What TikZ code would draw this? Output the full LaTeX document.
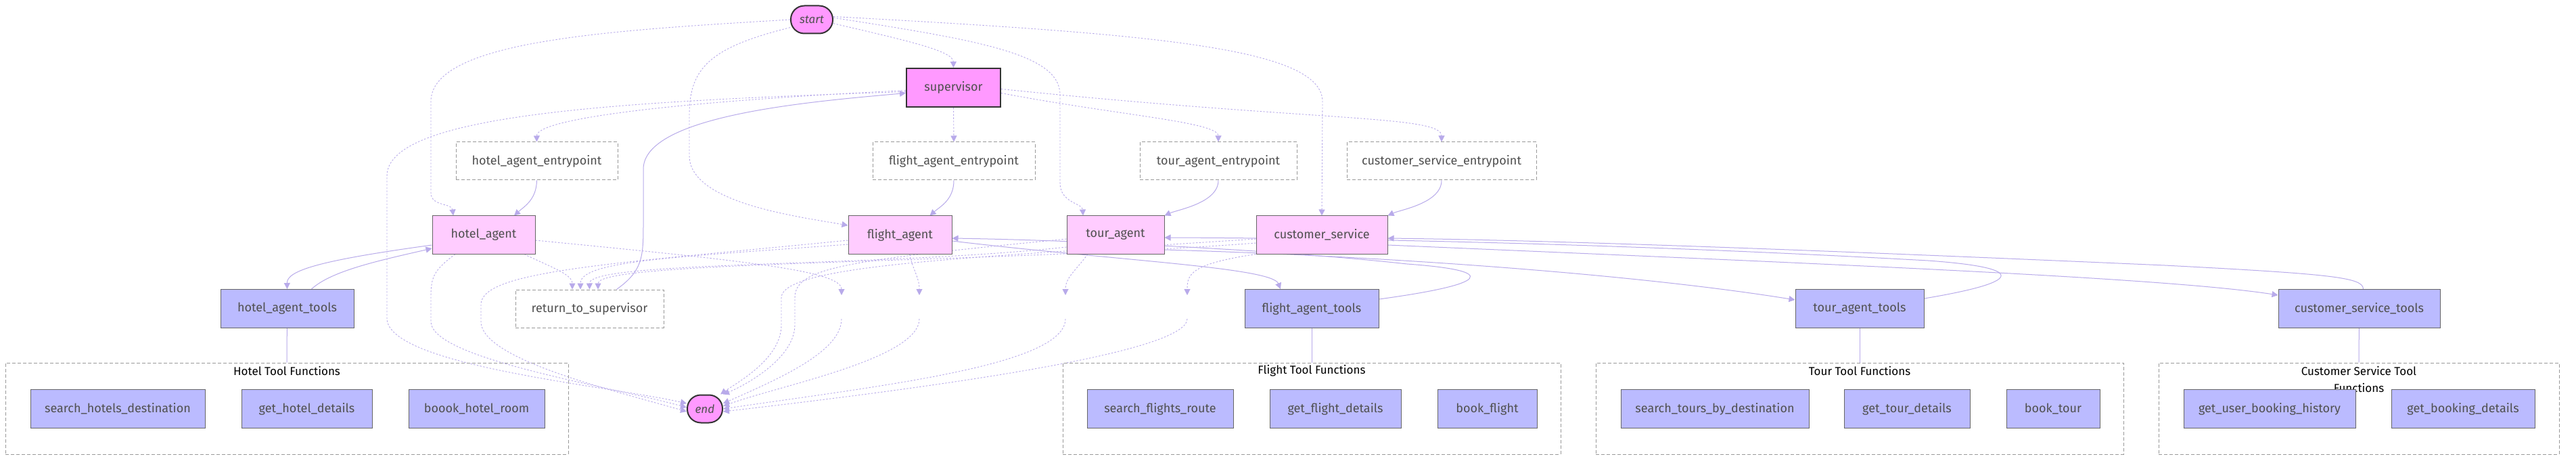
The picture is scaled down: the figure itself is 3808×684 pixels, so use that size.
\documentclass[tikz,border=0pt]{standalone}
\usepackage{fontspec}
\setmainfont{Fira Sans}
\usetikzlibrary{positioning,arrows.meta,backgrounds}

\definecolor{edgeline}{RGB}{184,170,234}
\definecolor{termfill}{RGB}{255,153,255}
\definecolor{agentfill}{RGB}{255,204,255}
\definecolor{toolfill}{RGB}{187,187,255}
\definecolor{nodetext}{RGB}{80,80,80}
\definecolor{dashline}{RGB}{153,153,153}

\begin{document}
\begin{tikzpicture}[x=0.5pt,y=-0.5pt,
        every node/.style={font=\fontsize{9}{12.5}\selectfont,text=nodetext,inner sep=0pt},
        terminal/.style={draw=black!80,line width=1pt,fill=termfill,rounded corners=10pt,minimum height=20.5pt,font=\fontsize{8.5}{10}\selectfont\itshape},
        boss/.style={draw=black!80,line width=1pt,fill=termfill,minimum height=28.5pt},
        entry/.style={draw=dashline,line width=0.5pt,dash pattern=on 2.5pt off 1.5pt,fill=white,minimum height=28pt},
        agent/.style={draw=black!60,line width=0.5pt,fill=agentfill,minimum height=28pt},
        tool/.style={draw=black!60,line width=0.5pt,fill=toolfill,minimum height=28.5pt},
        group/.style={draw=dashline,line width=0.5pt,dash pattern=on 2.5pt off 1.5pt,minimum height=67.5pt},
        grouptitle/.style={text=black,align=center,font=\fontsize{8.5}{12.5}\selectfont},
        flow/.style={draw=edgeline,line width=0.5pt,-{Triangle[length=4.5pt,width=4.5pt]}},
        cond/.style={flow,line width=0.45pt,dash pattern=on 1.2pt off 1.2pt},
        link/.style={draw=edgeline,line width=0.5pt}]
        \useasboundingbox (0,0) rectangle (3808,684);

        \node[terminal,minimum width=31pt] (start) at (1200,29) {start};
        \node[boss,minimum width=69.5pt] (supervisor) at (1409.5,129.5) {supervisor};
        \node[entry,minimum width=119.5pt] (hotelentry) at (793.5,238) {hotel\_agent\_entrypoint};
        \node[entry,minimum width=120pt] (flightentry) at (1410,238) {flight\_agent\_entrypoint};
        \node[entry,minimum width=116pt] (tourentry) at (1801,238) {tour\_agent\_entrypoint};
        \node[entry,minimum width=140pt] (csentry) at (2131,238) {customer\_service\_entrypoint};
        \node[agent,minimum width=76pt] (hotel) at (715,347) {hotel\_agent};
        \node[agent,minimum width=76.5pt] (flight) at (1330.5,347) {flight\_agent};
        \node[agent,minimum width=72pt] (tour) at (1649,347) {tour\_agent};
        \node[agent,minimum width=97pt] (cs) at (1954,347) {customer\_service};
        \node[tool,minimum width=98.5pt] (hoteltools) at (424.5,456) {hotel\_agent\_tools};
        \node[entry,minimum width=109.5pt] (rts) at (871.5,456) {return\_to\_supervisor};
        \node[tool,minimum width=99pt] (flighttools) at (1939,456) {flight\_agent\_tools};
        \node[tool,minimum width=95pt] (tourtools) at (2749,456) {tour\_agent\_tools};
        \node[tool,minimum width=119.5pt] (cstools) at (3487.5,456) {customer\_service\_tools};
        \node[terminal,minimum width=26pt] (end) at (1042,604) {end};

        \node[group,minimum width=416pt] (hotelgroup) at (424,603.5) {};
        \node[group,minimum width=368pt] (flightgroup) at (1939,603.5) {};
        \node[group,minimum width=390pt] (tourgroup) at (2749,603.5) {};
        \node[group,minimum width=296pt] (csgroup) at (3487,603.5) {};
        \node[grouptitle] (hoteltitle) at (424,548) {Hotel Tool Functions};
        \node[grouptitle] (flighttitle) at (1939,548) {Flight Tool Functions};
        \node[grouptitle] (tourtitle) at (2749,548) {Tour Tool Functions};
        \node[grouptitle] (cstitle) at (3487,560.5) {Customer Service Tool\\Functions};

        \node[tool,minimum width=129pt] (searchhotels) at (174,604) {search\_hotels\_destination};
        \node[tool,minimum width=96.5pt] (hoteldetails) [right=26.5pt of searchhotels] {get\_hotel\_details};
        \node[tool,minimum width=100.5pt] (hotelroom) [right=26.5pt of hoteldetails] {boook\_hotel\_room};
        \node[tool,minimum width=108pt] (searchflights) at (1715,604) {search\_flights\_route};
        \node[tool,minimum width=97pt] (flightdetails) [right=26.5pt of searchflights] {get\_flight\_details};
        \node[tool,minimum width=73.5pt] (bookflight) [right=26.5pt of flightdetails] {book\_flight};
        \node[tool,minimum width=139pt] (searchtours) at (2535,604) {search\_tours\_by\_destination};
        \node[tool,minimum width=93pt] (tourdetails) [right=25.5pt of searchtours] {get\_tour\_details};
        \node[tool,minimum width=69pt] (booktour) [right=26.5pt of tourdetails] {book\_tour};
        \node[tool,minimum width=127pt] (history) at (3355,604) {get\_user\_booking\_history};
        \node[tool,minimum width=106pt] (bookingdetails) [right=26pt of history] {get\_booking\_details};

        \coordinate (hotelmid) at (1244,436);
        \coordinate (hotelresume) at (1244,471);
        \coordinate (flightmid) at (1359,436);
        \coordinate (flightresume) at (1359,471);
        \coordinate (tourmid) at (1575,436);
        \coordinate (tourresume) at (1575,471);
        \coordinate (csmid) at (1755,436);
        \coordinate (csresume) at (1755,471);

        \begin{scope}[on background layer]
        \fill[white] (0,0) rectangle (3808,684);
        \draw[cond] (start.-10) .. controls (1340,60) and (1409,75) .. (supervisor.north);
        \draw[cond] (start.west) .. controls (900,45) and (637,60) .. (637,150) -- (637,285) .. controls (637,305) and (668,300) .. ([xshift=-22.5pt]hotel.north);
        \draw[cond] (start.200) .. controls (1050,70) and (1019,100) .. (1019,170) -- (1019,230) .. controls (1019,300) and (1180,320) .. ([yshift=7pt]flight.west);
        \draw[cond] (start.5) .. controls (1450,60) and (1567,80) .. (1567,140) -- (1567,270) .. controls (1567,300) and (1600,300) .. ([xshift=-24pt]tour.north);
        \draw[cond] (start.8) .. controls (1700,50) and (1955,70) .. (1955,150) -- (cs.north);

        \draw[cond] ([yshift=-2pt]supervisor.west) .. controls (1000,150) and (793,175) .. (hotelentry.north);
        \draw[cond] ([yshift=-3pt]supervisor.west) .. controls (900,150) and (572,170) .. (572,260) -- (572,470) .. controls (572,540) and (900,570) .. ([yshift=4pt]end.west);
        \draw[cond] (supervisor.south) -- (flightentry.north);
        \draw[cond] ([yshift=-4pt]supervisor.east) .. controls (1650,170) and (1801,180) .. (tourentry.north);
        \draw[cond] ([yshift=-1pt]supervisor.east) .. controls (1950,180) and (2131,170) .. (csentry.north);
        \draw[flow] ([xshift=20pt]rts.north) .. controls (950,400) and (951,380) .. (951,330) -- (951,250) .. controls (951,170) and (1200,150) .. ([yshift=-4pt]supervisor.west);

        \draw[flow] (hotelentry.south) .. controls (793,295) and (775,305) .. ([xshift=22.5pt]hotel.north);
        \draw[flow] (flightentry.south) .. controls (1410,295) and (1390,305) .. ([xshift=22pt]flight.north);
        \draw[flow] (tourentry.south) .. controls (1801,300) and (1740,310) .. (tour.north east);
        \draw[flow] (csentry.south) .. controls (2131,300) and (2070,310) .. (cs.north east);

        \draw[flow] ([yshift=-7.5pt]hotel.west) .. controls (470,385) and (424,400) .. (hoteltools.north);
        \draw[flow] ([xshift=18pt]hoteltools.north) .. controls (490,400) and (560,385) .. ([yshift=-10pt]hotel.west);
        \draw[flow] ([yshift=-4.5pt]flight.east) .. controls (1650,385) and (1880,395) .. ([xshift=-23pt]flighttools.north);
        \draw[flow] ([yshift=7pt]flighttools.east) .. controls (2200,420) and (2220,400) .. (2080,390) .. controls (1900,370) and (1600,355) .. ([yshift=-2.5pt]flight.east);
        \draw[flow] ([yshift=-11pt]tour.east) .. controls (2100,380) and (2450,410) .. ([yshift=6.5pt]tourtools.west);
        \draw[flow] ([yshift=7.5pt]tourtools.east) .. controls (3000,415) and (2990,395) .. (2850,385) .. controls (2400,360) and (2000,352) .. ([yshift=-2pt]tour.east);
        \draw[flow] ([yshift=-7.5pt]cs.east) .. controls (2700,390) and (3200,410) .. ([yshift=10pt]cstools.west);
        \draw[flow] ([xshift=3pt]cstools.north) .. controls (3493,410) and (3450,405) .. (3200,392) .. controls (2700,370) and (2300,355) .. ([yshift=-2.5pt]cs.east);

        \draw[cond] ([xshift=30pt]hotel.south) .. controls (815,395) and (846,405) .. ([xshift=-12.75pt]rts.north);
        \draw[cond] ([yshift=-7pt]flight.west) .. controls (1000,380) and (858,385) .. ([xshift=-6.75pt]rts.north);
        \draw[cond] ([yshift=-9pt]tour.west) .. controls (1300,395) and (871,385) .. (rts.north);
        \draw[cond] ([yshift=-6pt]cs.west) .. controls (1450,390) and (884,385) .. ([xshift=6.25pt]rts.north);

        \draw[cond] ([xshift=-21pt]hotel.south) .. controls (640,400) and (637,410) .. (637,440) -- (637,475) .. controls (637,530) and (900,570) .. ([yshift=1pt]end.west);
        \draw[cond] ([yshift=-4pt]flight.west) .. controls (900,390) and (711,400) .. (711,450) -- (711,475) .. controls (711,530) and (900,575) .. ([yshift=-2pt]end.west);
        \draw[cond] ([yshift=-3pt]tour.west) .. controls (1250,385) and (1175,395) .. (1175,440) -- (1175,480) .. controls (1175,530) and (1100,570) .. (end.north east);
        \draw[cond] ([yshift=-3pt]cs.west) .. controls (1450,380) and (1155,390) .. (1155,440) -- (1155,480) .. controls (1155,530) and (1090,565) .. ([xshift=-2pt]end.north east);

        \draw[cond] ([yshift=-4pt]hotel.east) .. controls (1100,385) and (1244,400) .. (hotelmid);
        \draw[cond] (hotelresume) .. controls (1244,520) and (1150,560) .. ([yshift=4pt]end.east);
        \draw[cond] ([xshift=7pt]flight.south) .. controls (1350,400) and (1359,410) .. (flightmid);
        \draw[cond] (flightresume) .. controls (1359,530) and (1150,570) .. ([yshift=2pt]end.east);
        \draw[cond] ([xshift=-20.5pt]tour.south) .. controls (1590,400) and (1575,410) .. (tourmid);
        \draw[cond] (tourresume) .. controls (1575,540) and (1300,570) .. (end.east);
        \draw[cond] (cs.south west) .. controls (1760,390) and (1755,405) .. (csmid);
        \draw[cond] (csresume) .. controls (1755,520) and (1400,570) .. ([yshift=-2pt]end.east);

        \draw[link] (hoteltools) -- (hotelgroup.north);
        \draw[link] (flighttools) -- (flightgroup.north);
        \draw[link] (tourtools) -- (tourgroup.north);
        \draw[link] (cstools) -- (csgroup.north);
        \end{scope}
    \end{tikzpicture}
\end{document}
